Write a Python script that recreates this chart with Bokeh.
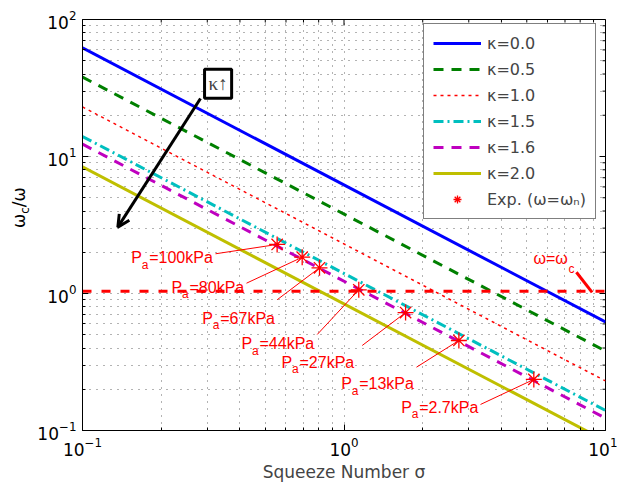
import numpy as np
from bokeh.plotting import figure
from bokeh.layouts import row
from bokeh.models import (FixedTicker, LogTickFormatter, Legend, LegendItem, Div,
                          Label, Arrow, OpenHead, ColumnDataSource, Range1d)
from bokeh.core.properties import value
from bokeh.embed import file_html
from bokeh.resources import INLINE

# ---------------- data ----------------
sigma_ends = [0.1, 10.0]
kappa_labels = ["κ=0.0", "κ=0.5", "κ=1.0", "κ=1.5", "κ=1.6", "κ=2.0"]
exp_label = "Exp. (ω=ωₙ)"
ratio_k00 = [62.0, 0.62]
ratio_k05 = [38.0, 0.38]
ratio_k10 = [23.0, 0.23]
ratio_k15 = [14.0, 0.14]
ratio_k16 = [12.3, 0.123]
ratio_k20 = [8.4, 0.084]

exp_sigma = [0.555, 0.692, 0.806, 1.139, 1.72, 2.75, 5.32]
exp_ratio = [2.28, 1.84, 1.54, 1.064, 0.726, 0.454, 0.236]
exp_pa = ["=100kPa", "=80kPa", "=67kPa", "=44kPa", "=27kPa", "=13kPa", "=2.7kPa"]

cutoff_sigma = [0.1, 10.0]
cutoff_ratio = [1.04, 1.04]

# annotation anchors (data coordinates)
label_x = [0.1535, 0.219, 0.287, 0.4055, 0.5768, 0.9757, 1.654]
label_y = [1.822, 1.112, 0.657, 0.4315, 0.315, 0.2203, 0.148]
leader_x = [0.3226, 0.4238, 0.555, 0.790, 1.174, 1.893, 3.327]
leader_y = [1.949, 1.189, 0.90, 0.502, 0.4173, 0.2897, 0.1549]

FONT = "Liberation Sans"
FONT2 = "DejaVu Sans"

LABW = 30  # narrow strip that carries the rotated y-axis title
H = 488

p = figure(x_axis_type="log", y_axis_type="log",
           x_range=Range1d(0.1, 10), y_range=Range1d(0.1, 100),
           frame_width=523, frame_height=411,
           min_border_left=82 - LABW, min_border_right=12, min_border_top=19, min_border_bottom=57,
           output_backend="svg", toolbar_location=None)
p.background_fill_color = "white"
p.border_fill_color = "white"
p.outline_line_color = "black"
p.outline_line_width = 1

xmajor = [0.1, 1, 10]
ymajor = [0.1, 1, 10, 100]
xminor = [m * 10.0 ** e for e in (-1, 0) for m in range(2, 10)]
yminor = [m * 10.0 ** e for e in (-1, 0, 1) for m in range(2, 10)]

for ax in (p.xaxis[0], p.yaxis[0]):
    ax.axis_line_color = "black"
    ax.major_tick_in = 6
    ax.major_tick_out = 0
    ax.minor_tick_in = 3
    ax.minor_tick_out = 0
    ax.major_tick_line_color = "black"
    ax.minor_tick_line_color = "black"
    ax.major_label_text_font = FONT2
    ax.major_label_text_color = "black"
    ax.major_label_text_font_size = "17px"
    ax.major_label_standoff = 6
    ax.formatter = LogTickFormatter()

p.xaxis.ticker = FixedTicker(ticks=xmajor, minor_ticks=xminor)
p.yaxis.ticker = FixedTicker(ticks=ymajor, minor_ticks=yminor)
p.xaxis.axis_label = "Squeeze Number σ"
p.xaxis.axis_label_text_font = FONT2
p.xaxis.axis_label_text_font_size = "17px"
p.xaxis.axis_label_text_font_style = "normal"
p.xaxis.axis_label_standoff = 3

for g in (p.xgrid[0], p.ygrid[0]):
    g.grid_line_color = "black"
    g.grid_line_alpha = 0.6
    g.grid_line_dash = "1 6"
    g.minor_grid_line_color = "black"
    g.minor_grid_line_alpha = 0.6
    g.minor_grid_line_dash = "1 6"

# ticks on the top and right edges of the box (half of each dash is clipped by the frame)
p.scatter(x=xmajor, y=[100] * len(xmajor), marker="dash", size=12, angle=np.pi / 2, line_color="black")
p.scatter(x=xminor, y=[100] * len(xminor), marker="dash", size=6, angle=np.pi / 2, line_color="black")
p.scatter(x=[10] * len(ymajor), y=ymajor, marker="dash", size=12, line_color="black")
p.scatter(x=[10] * len(yminor), y=yminor, marker="dash", size=6, line_color="black")

# ---------------- curves ----------------
r0 = p.line(sigma_ends, ratio_k00, line_color="#0000FF", line_width=3)
r1 = p.line(sigma_ends, ratio_k05, line_color="#008000", line_width=3, line_dash="10 8")
r2 = p.line(sigma_ends, ratio_k10, line_color="#FF0000", line_width=1.5, line_dash="3 4")
r3 = p.line(sigma_ends, ratio_k15, line_color="#00BFBF", line_width=3, line_dash="10 4 2 4")
r4 = p.line(sigma_ends, ratio_k16, line_color="#BF00BF", line_width=3, line_dash="10 8")
r5 = p.line(sigma_ends, ratio_k20, line_color="#BFBF00", line_width=3)

p.line(cutoff_sigma, cutoff_ratio, line_color="#FF0000", line_width=3, line_dash="9 10")

# leader lines and pressure labels
src = ColumnDataSource(dict(lx=label_x, ly=label_y, sx=leader_x, sy=leader_y,
                            ex=exp_sigma, ey=exp_ratio,
                            ptxt=["P"] * len(exp_pa), sub=["a"] * len(exp_pa), rest=exp_pa))
p.segment(x0="sx", y0="sy", x1="ex", y1="ey", source=src, line_color="#FF0000", line_width=1)
p.text(x="lx", y="ly", text="ptxt", source=src, text_color="#FF0000",
       text_font=value(FONT), text_font_size="16px", text_baseline="alphabetic")
p.text(x="lx", y="ly", text="sub", source=src, text_color="#FF0000", x_offset=10.5, y_offset=7,
       text_font=value(FONT), text_font_size="12px", text_baseline="alphabetic")
p.text(x="lx", y="ly", text="rest", source=src, text_color="#FF0000", x_offset=18,
       text_font=value(FONT), text_font_size="16px", text_baseline="alphabetic")

rexp = p.scatter(x="ex", y="ey", source=src, marker="asterisk", size=16,
                 line_color="#FF0000", line_width=1.3)

# omega = omega_c annotation
p.segment(x0=[7.74], y0=[1.43], x1=[8.89], y1=[1.02], line_color="#FF0000", line_width=3)
p.add_layout(Label(x=5.304, y=1.80, text="ω=ω", text_color="#FF0000",
                   text_font=FONT, text_font_size="16px", text_baseline="alphabetic"))
p.add_layout(Label(x=7.22, y=1.50, text="c", text_color="#FF0000",
                   text_font=FONT, text_font_size="12px", text_baseline="alphabetic"))

# kappa arrow
p.add_layout(Arrow(end=OpenHead(size=12, line_width=3, line_color="black"),
                   x_start=0.2826, y_start=26.5, x_end=0.1365, y_end=3.05,
                   line_width=3, line_color="black"))
p.add_layout(Label(x=0.33, y=33.9, text="κ↑", text_align="center", text_baseline="middle",
                   text_font="Liberation Serif", text_font_size="19px",
                   border_line_color="black", border_line_width=3,
                   background_fill_color="white", padding=4))

# legend
legend = Legend(items=[LegendItem(label=kappa_labels[i], renderers=[r])
                       for i, r in enumerate([r0, r1, r2, r3, r4, r5])] +
                      [LegendItem(label=exp_label, renderers=[rexp])],
                location=(341, 211), orientation="vertical",
                label_text_font=FONT2, label_text_font_size="16px",
                glyph_width=48, glyph_height=20, label_height=20, spacing=6,
                padding=9, margin=0, label_standoff=6, label_width=98,
                border_line_color="black", border_line_width=1,
                background_fill_color="white", background_fill_alpha=1)
p.add_layout(legend)

# ---------------- y-axis title strip:  omega_c / omega (real HTML text, rotated) ----------------
ytitle_html = (
    '<div style="margin:0; padding:0; margin-left:11px; margin-top:228px; width:max-content; '
    'transform-origin:0 0; transform:rotate(-90deg); white-space:nowrap; '
    "font-family:'DejaVu Sans'; font-size:17px; line-height:17px; color:black;\">"
    'ω<sub style="font-size:12px; vertical-align:-4px; line-height:12px;">c</sub>/ω</div>'
)
ytitle = Div(text=ytitle_html, width=LABW, height=H, margin=0,
             styles={"overflow": "visible", "background-color": "white"})

layout = row(ytitle, p)
open("out.html", "w").write(file_html(layout, INLINE))
